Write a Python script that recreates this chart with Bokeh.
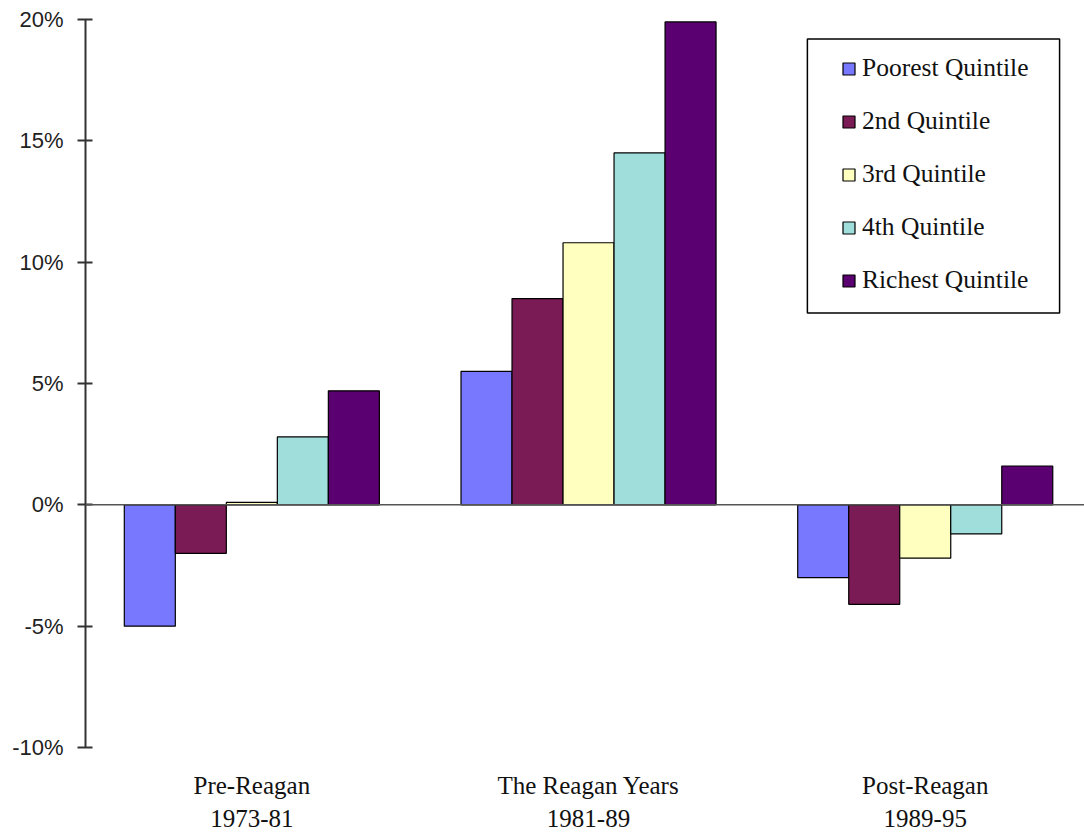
from bokeh.plotting import figure
from bokeh.models import (Range1d, FixedTicker, PrintfTickFormatter, Span,
                          Legend, LegendItem, BoxAnnotation)
from bokeh.embed import file_html
from bokeh.resources import INLINE

# Change in family income by quintile, per period (percent)
periods = ["Pre-Reagan\n1973-81", "The Reagan Years\n1981-89", "Post-Reagan\n1989-95"]
quintiles = ["Poorest Quintile", "2nd Quintile", "3rd Quintile", "4th Quintile", "Richest Quintile"]
poorest = [-5.0, 5.5, -3.0]
second = [-2.0, 8.5, -4.1]
third = [0.1, 10.8, -2.2]
fourth = [2.8, 14.5, -1.2]
richest = [4.7, 19.9, 1.6]
y_ticks = [-10, -5, 0, 5, 10, 15, 20]

series = [poorest, second, third, fourth, richest]
colors = ["#7878FF", "#7B1B55", "#FFFFC0", "#A0DEDC", "#5A0070"]

centers = [i + 0.5 for i in range(len(periods))]
bar_w = 0.1515

p = figure(width=1084, height=835, frame_width=999, frame_height=728,
           x_range=Range1d(0.006, 2.973), y_range=Range1d(-10, 20),
           min_border_left=85, min_border_right=0, min_border_top=19,
           min_border_bottom=88, output_backend="svg", toolbar_location=None,
           outline_line_color=None)
p.xgrid.visible = False
p.ygrid.visible = False
p.background_fill_color = "white"
p.border_fill_color = "white"

# zero line across the plot
p.add_layout(Span(location=0, dimension="width", line_color="#555555", line_width=1.5))

renderers = []
for k, (vals, col) in enumerate(zip(series, colors)):
    xs = [c + (k - 2) * bar_w for c in centers]
    r = p.vbar(x=xs, top=vals, bottom=0, width=bar_w, fill_color=col,
               line_color="black", line_width=1.2)
    renderers.append(r)

# y axis
p.yaxis.ticker = FixedTicker(ticks=y_ticks)
p.yaxis.formatter = PrintfTickFormatter(format="%d%%")
p.yaxis.minor_tick_line_color = None
p.yaxis.major_tick_in = 7
p.yaxis.major_tick_out = 8
p.yaxis.major_tick_line_color = "#333333"
p.yaxis.major_tick_line_width = 2
p.yaxis.axis_line_color = "#333333"
p.yaxis.axis_line_width = 2
p.yaxis.major_label_standoff = 14
p.yaxis.major_label_text_font = "Liberation Sans"
p.yaxis.major_label_text_font_size = "22px"
p.yaxis.major_label_text_color = "#222222"

# x axis: period labels only
p.xaxis.ticker = FixedTicker(ticks=centers)
p.xaxis.major_label_overrides = {c: lab for c, lab in zip(centers, periods)}
p.xaxis.axis_line_color = None
p.xaxis.major_tick_line_color = None
p.xaxis.minor_tick_line_color = None
p.xaxis.major_label_standoff = 18
p.xaxis.major_label_text_font = "Liberation Serif"
p.xaxis.major_label_text_font_size = "25px"
p.xaxis.major_label_text_line_height = 1.25
p.xaxis.major_label_text_color = "#111111"

# legend frame
p.add_layout(BoxAnnotation(left=2.15, right=2.899, top=19.2, bottom=7.91,
                           fill_color="white", fill_alpha=1.0,
                           line_color="black", line_alpha=1.0, line_width=1.5))

legend = Legend(items=[LegendItem(label=q, renderers=[r]) for q, r in zip(quintiles, renderers)],
                location=(756, 452), padding=0, spacing=23,
                glyph_width=15, glyph_height=15, label_height=20,
                label_standoff=6, label_text_font="Liberation Serif",
                label_text_font_size="25.5px", label_text_color="#111111",
                border_line_color=None, background_fill_alpha=0)
p.add_layout(legend)

open("out.html", "w").write(file_html(p, INLINE))
